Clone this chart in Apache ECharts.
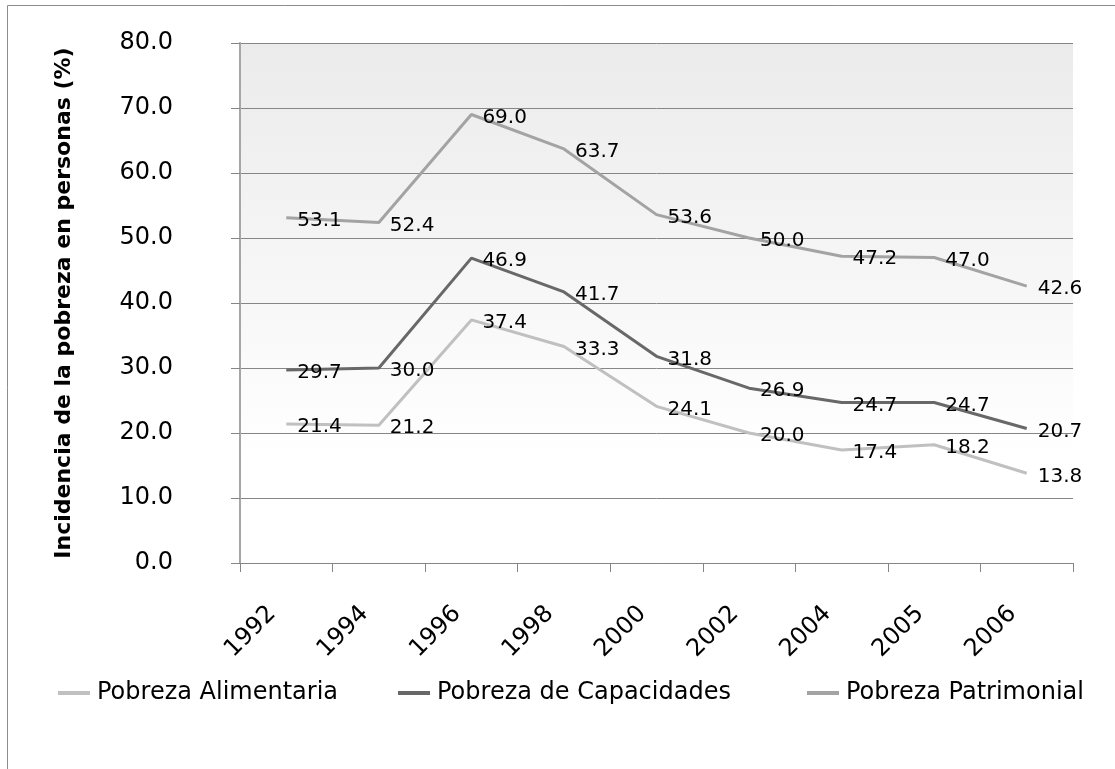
<!DOCTYPE html>
<html>
<head>
<meta charset="utf-8">
<script src="https://cdn.jsdelivr.net/npm/echarts@6/dist/echarts.min.js"></script>
<style>
  html, body { margin: 0; padding: 0; background: #fff; }
  #chart { width: 1115px; height: 769px; }
</style>
</head>
<body>
<div id="chart"></div>
<script>
// datos
var anios = ['1992', '1994', '1996', '1998', '2000', '2002', '2004', '2005', '2006'];
var alimentaria = [21.4, 21.2, 37.4, 33.3, 24.1, 20.0, 17.4, 18.2, 13.8];
var capacidades = [29.7, 30.0, 46.9, 41.7, 31.8, 26.9, 24.7, 24.7, 20.7];
var patrimonial = [53.1, 52.4, 69.0, 63.7, 53.6, 50.0, 47.2, 47.0, 42.6];
var nombres = ['Pobreza Alimentaria', 'Pobreza de Capacidades', 'Pobreza Patrimonial'];

var fuente = 'DejaVu Sans';

function serie(nombre, datos, color) {
  return {
    name: nombre,
    type: 'line',
    data: datos,
    symbol: 'circle',
    symbolSize: 0,
    lineStyle: { color: color, width: 3 },
    itemStyle: { color: color },
    label: {
      show: true,
      position: 'right',
      distance: 11,
      offset: [0, 3],
      fontFamily: fuente,
      fontSize: 20,
      color: '#000',
      formatter: function (p) { return p.value.toFixed(1); }
    }
  };
}

// una leyenda por serie para colocar cada una donde va
function leyenda(nombre, izq) {
  return {
    left: izq,
    top: 676,
    icon: 'rect',
    itemWidth: 32,
    itemHeight: 4,
    textStyle: { fontFamily: fuente, fontSize: 24, color: '#000', padding: [0, 0, 0, 2] },
    data: [nombre]
  };
}

var myChart = echarts.init(document.getElementById('chart'));
var option = {
  animation: false,
  graphic: [{
    type: 'rect',
    shape: { x: 7.5, y: 5.5, width: 1200, height: 800 },
    style: { fill: 'none', stroke: '#8c8c8c', lineWidth: 1 }
  }],
  grid: {
    left: 240, right: 42, top: 43, bottom: 206,
    show: true,
    borderWidth: 0,
    backgroundColor: new echarts.graphic.LinearGradient(0, 0, 0, 1, [
      { offset: 0, color: '#ebebeb' },
      { offset: 0.8, color: '#ffffff' },
      { offset: 1, color: '#ffffff' }
    ])
  },
  legend: [
    leyenda(nombres[0], 53),
    leyenda(nombres[1], 393),
    leyenda(nombres[2], 802)
  ],
  xAxis: {
    type: 'category',
    data: anios,
    boundaryGap: true,
    axisLine: { lineStyle: { color: '#868686', width: 1 } },
    axisTick: { show: true, length: 9, lineStyle: { color: '#868686' } },
    axisLabel: {
      rotate: 45,
      margin: 33,
      padding: [0, 20, 0, 0],
      fontFamily: fuente,
      fontSize: 24,
      color: '#000'
    }
  },
  yAxis: {
    type: 'value',
    min: 0,
    max: 80,
    interval: 10,
    name: 'Incidencia de la pobreza en personas (%)',
    nameLocation: 'middle',
    nameGap: 165,
    nameRotate: 90,
    nameTextStyle: { fontFamily: fuente, fontSize: 22, fontWeight: 'bold', color: '#000' },
    axisLine: { show: true, lineStyle: { color: '#a6a6a6', width: 2 } },
    axisTick: { show: true, length: 9, lineStyle: { color: '#868686' } },
    splitLine: { show: true, lineStyle: { color: '#868686', width: 1 } },
    axisLabel: {
      margin: 67,
      fontFamily: fuente,
      fontSize: 24,
      color: '#000',
      formatter: function (v) { return v.toFixed(1); }
    }
  },
  series: [
    serie(nombres[0], alimentaria, '#c0c0c0'),
    serie(nombres[1], capacidades, '#686868'),
    serie(nombres[2], patrimonial, '#a3a3a3')
  ]
};
myChart.setOption(option);
window.addEventListener('resize', function () {
  myChart.resize();
});
</script>
</body>
</html>
